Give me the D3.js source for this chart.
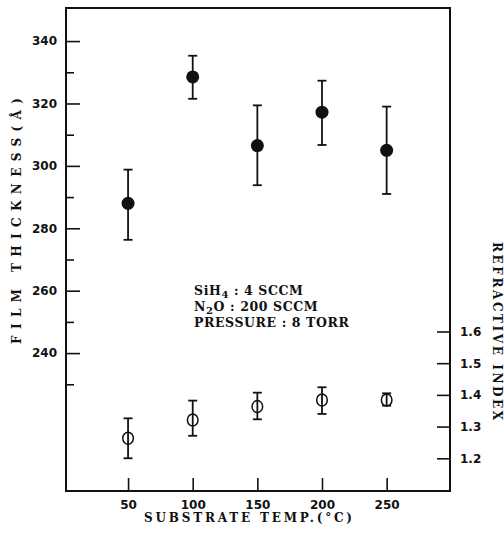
<!DOCTYPE html>
<html><head><meta charset="utf-8">
<script src="https://cdn.jsdelivr.net/npm/d3@7"></script>
<style>
html,body{margin:0;padding:0;background:#fff;}
svg{display:block;}
.num{font-family:"DejaVu Sans",sans-serif;font-weight:bold;font-size:12px;fill:#111;}
.ttl{font-family:"DejaVu Serif",serif;font-weight:bold;font-size:12px;fill:#111;}
.ann{font-family:"DejaVu Serif",serif;font-weight:bold;font-size:12.5px;fill:#111;letter-spacing:0.6px;}
</style></head>
<body>
<script>
const temps = [50, 100, 150, 200, 250];
const thickness = [288.0, 328.5, 306.5, 317.2, 305.0];
const thicknessHigh = [298.8, 335.3, 319.4, 327.3, 319.0];
const thicknessLow = [276.3, 321.5, 293.8, 306.7, 291.0];
const refIndex = [1.263, 1.321, 1.363, 1.384, 1.384];
const refHigh = [1.326, 1.382, 1.407, 1.424, 1.405];
const refLow = [1.200, 1.271, 1.323, 1.340, 1.366];
const xTicks = [50, 100, 150, 200, 250];
const yMajorTicks = [240, 260, 280, 300, 320, 340];
const yMinorTicks = [230, 250, 270, 290, 310, 330];
const rTicks = [1.2, 1.3, 1.4, 1.5, 1.6];
const annotation = [
  [["SiH", 0], ["4", 1], [" : 4 SCCM", 0]],
  [["N", 0], ["2", 1], ["O : 200 SCCM", 0]],
  [["PRESSURE : 8 TORR", 0]]
];

const W = 504, H = 534;
const L = 66, R = 450, T = 8, B = 491;
const svg = d3.select("body").append("svg").attr("width", W).attr("height", H);

const x = d3.scaleLinear().domain([2, 299]).range([L, R]);
const y = d3.scaleLinear().domain([195.8, 350.6]).range([B, T]);
const yr = d3.scaleLinear().domain([1.0968, 2.6205]).range([B, T]);

// frame
svg.append("rect").attr("x", L).attr("y", T).attr("width", R - L).attr("height", B - T)
  .attr("fill", "none").attr("stroke", "#111").attr("stroke-width", 2);

function styleAxis(g) {
  g.select(".domain").remove();
  g.selectAll("line").attr("stroke", "#111").attr("stroke-width", 1.6);
  g.selectAll("text").attr("class", "num").attr("fill", null).attr("font-family", null).attr("font-size", null);
}

// left axis
svg.append("g").attr("transform", `translate(${L},0)`)
  .call(d3.axisLeft(y).tickValues(yMajorTicks).tickSizeInner(-14).tickSizeOuter(0).tickPadding(9).tickFormat(d3.format("d")))
  .call(styleAxis);
svg.append("g").attr("transform", `translate(${L},0)`)
  .call(d3.axisLeft(y).tickValues(yMinorTicks).tickSizeInner(-8).tickSizeOuter(0).tickFormat(""))
  .call(styleAxis);

// bottom axis
svg.append("g").attr("transform", `translate(0,${B})`)
  .call(d3.axisBottom(x).tickValues(xTicks).tickSizeInner(-13).tickSizeOuter(0).tickPadding(9).tickFormat(d3.format("d")))
  .call(styleAxis);

// right axis
svg.append("g").attr("transform", `translate(${R},0)`)
  .call(d3.axisRight(yr).tickValues(rTicks).tickSizeInner(-13).tickSizeOuter(0).tickPadding(10).tickFormat(d3.format(".1f")))
  .call(styleAxis);

// axis titles
svg.append("text").attr("class", "ttl")
  .attr("transform", `translate(21,221) rotate(-90)`)
  .attr("text-anchor", "middle")
  .attr("textLength", 246).attr("lengthAdjust", "spacing")
  .text("FILM THICKNESS(Å)");
svg.append("text").attr("class", "ttl")
  .attr("transform", `translate(493,331) rotate(90)`)
  .attr("text-anchor", "middle")
  .attr("textLength", 178).attr("lengthAdjust", "spacing")
  .text("REFRACTIVE INDEX");
svg.append("text").attr("class", "ttl")
  .attr("x", 248).attr("y", 522)
  .attr("text-anchor", "middle")
  .attr("textLength", 208).attr("lengthAdjust", "spacing")
  .text("SUBSTRATE  TEMP.(°C)");

// annotation
annotation.forEach((line, i) => {
  const t = svg.append("text").attr("class", "ann").attr("x", 194).attr("y", 295 + i * 16);
  line.forEach(([s, sub]) => {
    const ts = t.append("tspan").text(s);
    if (sub) ts.attr("dy", 3).attr("font-size", "10px");
    else if (t.selectAll("tspan").size() > 1) ts.attr("dy", -3);
  });
});

// error bars helper
function errorBars(vals, hi, lo, scale) {
  const g = svg.append("g").attr("stroke", "#111").attr("stroke-width", 1.8).attr("fill", "none");
  temps.forEach((t, i) => {
    const cx = x(t);
    g.append("line").attr("x1", cx).attr("x2", cx).attr("y1", scale(hi[i])).attr("y2", scale(lo[i]));
    g.append("line").attr("x1", cx - 4.5).attr("x2", cx + 4.5).attr("y1", scale(hi[i])).attr("y2", scale(hi[i]));
    g.append("line").attr("x1", cx - 4.5).attr("x2", cx + 4.5).attr("y1", scale(lo[i])).attr("y2", scale(lo[i]));
  });
}

errorBars(thickness, thicknessHigh, thicknessLow, y);
svg.append("g").selectAll("circle").data(thickness).join("circle")
  .attr("cx", (d, i) => x(temps[i])).attr("cy", d => y(d)).attr("r", 6.5).attr("fill", "#111");

errorBars(refIndex, refHigh, refLow, yr);
svg.append("g").selectAll("ellipse").data(refIndex).join("ellipse")
  .attr("cx", (d, i) => x(temps[i])).attr("cy", d => yr(d)).attr("rx", 5.3).attr("ry", 6)
  .attr("fill", "none").attr("stroke", "#111").attr("stroke-width", 1.5);
</script>
</body></html>
